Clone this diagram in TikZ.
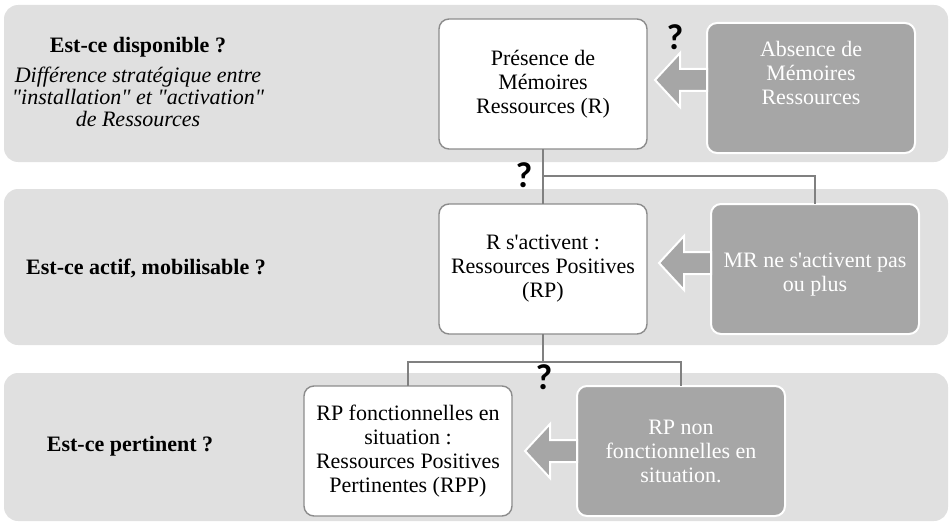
\documentclass[tikz,border=0pt]{standalone}
\usepackage{fontspec}
\setmainfont{Liberation Serif}[Ligatures=TeXOff]
\setsansfont{Carlito}
\usetikzlibrary{calc}

\definecolor{bandgray}{RGB}{224,224,224}
\definecolor{boxgray}{RGB}{166,166,166}
\definecolor{linegray}{RGB}{128,128,128}
\definecolor{bordergray}{RGB}{140,140,140}

\tikzset{
  band/.style={fill=bandgray, rounded corners=7pt},
  whitebox/.style={draw=bordergray, line width=0.7pt, fill=white, rounded corners=5pt,
    minimum width=104pt, minimum height=65pt, align=center, inner sep=2pt, outer sep=0pt,
    font=\rmfamily\fontsize{11}{12}\selectfont},
  graybox/.style={whitebox, draw=white, fill=boxgray, text=white, line width=1pt},
  question/.style={font=\rmfamily\bfseries\fontsize{11}{12}\selectfont, align=center},
  note/.style={font=\rmfamily\itshape\fontsize{11}{11}\selectfont, align=center},
  qmark/.style={font=\sffamily\bfseries\fontsize{18}{18}\selectfont},
  link/.style={draw=linegray, line width=0.75pt},
  blockarrow/.style={fill=boxgray, draw=white, line width=1pt, line join=miter}
}

\begin{document}
\begin{tikzpicture}[x=0.5pt, y=-0.5pt]
\useasboundingbox (0,0) rectangle (952,524);

% bandes
\fill[band] (4,5) rectangle (948,162);
\fill[band] (4,189) rectangle (948,345);
\fill[band] (4,373) rectangle (948,521);

% questions a gauche
\node[question] (q1) at (138,47) {Est-ce disponible ?};
\node[note] (n1) at (138,97) {Différence stratégique entre\\"installation" et "activation"\\de Ressources};
\node[question] (q2) at (146,268) {Est-ce actif, mobilisable ?};
\node[question] (q3) at (130,446) {Est-ce pertinent ?};

% boites
\node[whitebox] (pres) at (543,84) {Présence de\\Mémoires\\Ressources (R)};
\node[graybox] (abs) at (811,88) {Absence de\\Mémoires\\Ressources\\[3pt]\mbox{}};
\node[whitebox] (act) at (543,269) {R s'activent :\\Ressources Positives\\(RP)};
\node[graybox] (mr) at (815,269) {\mbox{}\\[1pt]MR ne s'activent pas\\ou plus};
\node[whitebox] (pert) at (408,451) {RP fonctionnelles en\\situation :\\Ressources Positives\\Pertinentes (RPP)};
\node[graybox] (nonf) at (681,451) {RP non\\fonctionnelles en\\situation.};

% fleches pleines
\foreach \from/\dy in {abs/-8, mr/-6, nonf/0}
  \draw[blockarrow] ($(\from.west)+(0,\dy-11)$) -- ++(-27,0) -- ++(0,-16)
    -- ++(-25,27) -- ++(25,27) -- ++(0,-16) -- ++(27,0) -- cycle;

% liaisons
\coordinate (j1) at (543,176);
\coordinate (j2) at (543,362);
\draw[link] (pres.south) -- (act.north);
\draw[link] (j1) -| (mr.north);
\draw[link] (act.south) -- (j2);
\draw[link] (pert.north) |- (j2) -| (nonf.north);

% points d'interrogation
\node[qmark] (qm1) at (675,37) {?};
\node[qmark] (qm2) at (524,175) {?};
\node[qmark] (qm3) at (544,377) {?};
\end{tikzpicture}
\end{document}
